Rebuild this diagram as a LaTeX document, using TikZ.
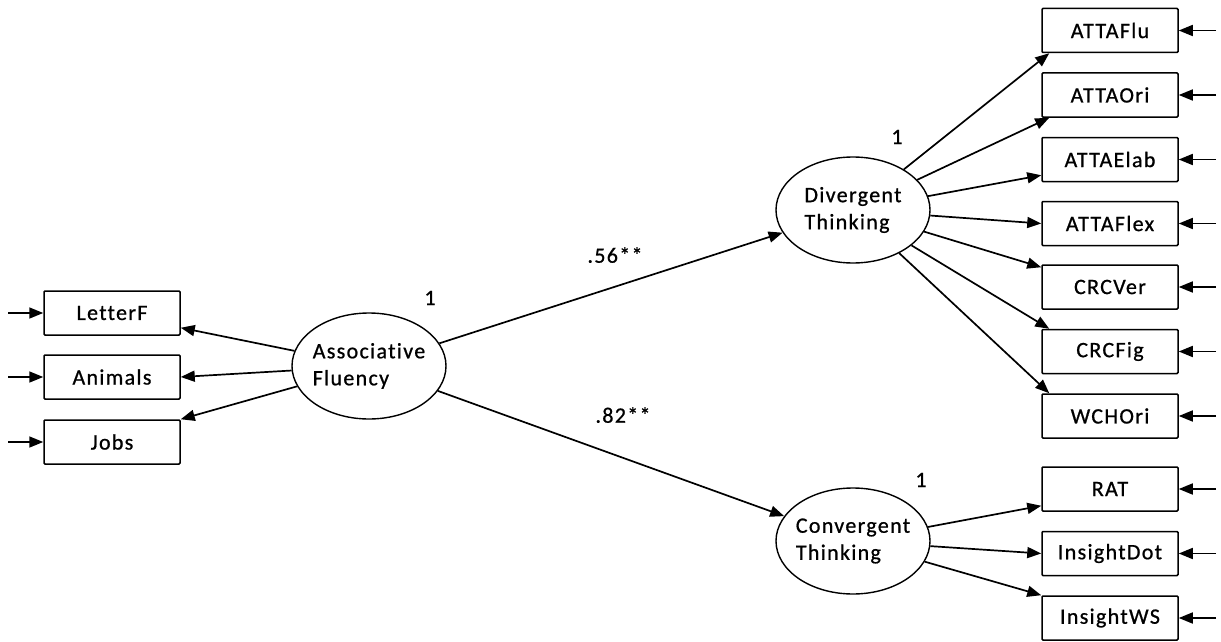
\documentclass[tikz,border=0pt]{standalone}
\usepackage{fontspec}
\setmainfont[LetterSpace=6, FakeBold=0.8, Ligatures=NoCommon]{Carlito}
\usetikzlibrary{shapes.geometric,arrows.meta}
\begin{document}
\begin{tikzpicture}[x=1pt, y=-1pt,
	every node/.style={font=\fontsize{22}{27}\selectfont},
	obs/.style={draw, line width=1.5pt, rounded corners=1pt, minimum width=136pt, minimum height=44pt, inner sep=0pt},
	lat/.style={draw, ellipse, line width=1.4pt, minimum width=154pt, minimum height=106pt, inner xsep=-4pt, inner ysep=0pt, align=left},
	path/.style={line width=1.7pt, -{Triangle[length=14pt,width=11pt]}}]
	\useasboundingbox (0,0) rectangle (1221,642);

	% latent variables
	\node[lat] (af) at (369,366) {Associative\\Fluency};
	\node[lat] (dt) at (853,210) {Divergent\\Thinking};
	\node[lat] (ct) at (853,541) {Convergent\\Thinking};

	% variances
	\node (af-var) at (430,298) {1};
	\node (dt-var) at (897,137) {1};
	\node (ct-var) at (921,480) {1};

	% left indicators
	\foreach \n/\t/\y in {lf/LetterF/313, ani/Animals/377, jobs/Jobs/442}{
		\node[obs] (\n) at (112,\y) {\t};
		\coordinate (\n-err) at (8,\y);
		\draw[path] (\n-err) -- (\n);
	}

	% right indicators
	\foreach \n/\t/\y in {flu/ATTAFlu/30.5, ori/ATTAOri/95, elab/ATTAElab/159.5, flex/ATTAFlex/223.5,
		ver/CRCVer/287, fig/CRCFig/351.5, wch/WCHOri/416, rat/RAT/489, dot/InsightDot/553.5, ws/InsightWS/618}{
		\node[obs] (\n) at (1110,\y) {\t};
		\coordinate (\n-err) at (1216,\y);
		\draw[path] (\n-err) -- (\n);
	}

	% associative fluency loadings
	\draw[path] (af) -- ([yshift=8pt]lf.south east);
	\draw[path] (af) -- (ani.east);
	\draw[path] (af) -- (jobs.north east);

	% structural paths
	\draw[path] (af) -- (dt);
	\draw[path] (af) -- (ct);
	\node (b-dt) at (615,255) {.56**};
	\node (b-ct) at (623,415) {.82**};

	% divergent thinking loadings
	\draw[path] (dt) -- ([xshift=8pt]flu.south west);
	\draw[path] (dt) -- ([xshift=8pt]ori.south west);
	\draw[path] (dt) -- ([yshift=7pt]elab.south west);
	\draw[path] (dt) -- (flex.west);
	\draw[path] (dt) -- ([yshift=-3pt]ver.north west);
	\draw[path] (dt) -- ([xshift=8pt]fig.north west);
	\draw[path] (dt) -- ([xshift=8pt]wch.north west);

	% convergent thinking loadings
	\draw[path] (ct) -- ([yshift=6pt]rat.south west);
	\draw[path] (ct) -- (dot.west);
	\draw[path] (ct) -- (ws.north west);
\end{tikzpicture}
\end{document}
